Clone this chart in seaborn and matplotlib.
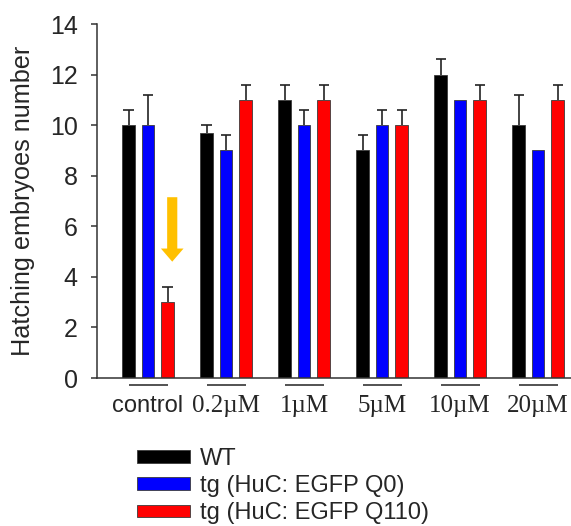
import numpy as np
import pandas as pd
import seaborn as sns
import matplotlib.pyplot as plt

# Hatching counts per treatment and genotype
groups = ["control", "0.2\u00b5M", "1\u00b5M", "5\u00b5M", "10\u00b5M", "20\u00b5M"]
series = ["WT", "tg (HuC: EGFP Q0)", "tg (HuC: EGFP Q110)"]
wt = [10, 9.7, 11, 9, 12, 10]
q0 = [10, 9, 10, 10, 11, 9]
q110 = [3, 11, 11, 10, 11, 11]
wt_err = [0.6, 0.3, 0.6, 0.6, 0.6, 1.2]
q0_err = [1.2, 0.6, 0.6, 0.6, 0, 0]
q110_err = [0.6, 0.6, 0.6, 0.6, 0.6, 0.6]
colors = ["#000000", "#0000FF", "#FF0000"]

values = [wt, q0, q110]
errors = [wt_err, q0_err, q110_err]

df = pd.DataFrame({
    "group": np.repeat([groups], 3, axis=0).ravel(),
    "series": np.repeat(series, len(groups)),
    "count": np.concatenate(values),
})

sns.set_style("white")
plt.rcParams["font.family"] = ["Liberation Sans", "DejaVu Sans"]

fig = plt.figure(figsize=(5.71, 5.26), dpi=100)
ax = fig.add_axes([97 / 571, (526 - 378) / 526, 1 - 97 / 571, 354 / 526])

sns.barplot(data=df, x="group", y="count", hue="series", order=groups,
            hue_order=series, palette=colors, saturation=1, width=0.75,
            gap=0.36, edgecolor="#3a3a3a", linewidth=0.6, errorbar=None,
            legend=False, ax=ax)
bar_sets = list(ax.containers)

# upper-only error bars: stem plus cap above each bar
cap_half = 0.065
for cont, err in zip(bar_sets, errors):
    for bar, e in zip(cont.patches, err):
        if e > 0:
            xc = bar.get_x() + bar.get_width() / 2
            top = bar.get_height()
            ax.vlines(xc, top, top + e, color="#222222", lw=1.2, zorder=1)
            ax.hlines(top + e, xc - cap_half, xc + cap_half, color="#222222",
                      lw=1.2, zorder=1)

ax.set_ylim(0, 14)
ax.set_xlim(-0.654, 5.42)
ax.set_yticks(np.arange(0, 15, 2))
ax.set_ylabel("Hatching embryoes number", fontsize=18.2)
ax.yaxis.set_label_coords(-0.13, 0.5)
ax.set_xlabel("")

for side in ("top", "right"):
    ax.spines[side].set_visible(False)
for side in ("left", "bottom"):
    ax.spines[side].set_color("#333333")
    ax.spines[side].set_linewidth(1.1)

ax.tick_params(axis="y", direction="out", length=4, width=1.1,
               color="#333333", labelsize=18, pad=10, left=True)
ax.tick_params(axis="x", length=0, pad=12, labelsize=17)
for lab in ax.get_xticklabels():
    if lab.get_text() != "control":
        lab.set_fontfamily("Liberation Serif")
        lab.set_fontsize(18)

# short rule beneath each group
for i in range(len(groups)):
    ax.plot([i - 0.25, i + 0.25], [-0.28, -0.28], color="#444444", lw=1.3,
            clip_on=False, solid_capstyle="butt")

# arrow pointing at the reduced Q110 control bar
ax.arrow(0.31, 7.15, 0, -2.55, width=0.13, head_width=0.29, head_length=0.52,
         length_includes_head=True, color="#FFC000", lw=0)

handles = [c.patches[0] for c in bar_sets]
ax.legend(handles, series, loc="upper left",
          bbox_to_anchor=(137 / 571, 1 - 448 / 526),
          bbox_transform=fig.transFigure, frameon=False, fontsize=17,
          handlelength=2.25, handleheight=0.46, handletextpad=0.42,
          labelspacing=0.22, borderpad=0, borderaxespad=0)

fig.savefig("out.png", dpi=100)
